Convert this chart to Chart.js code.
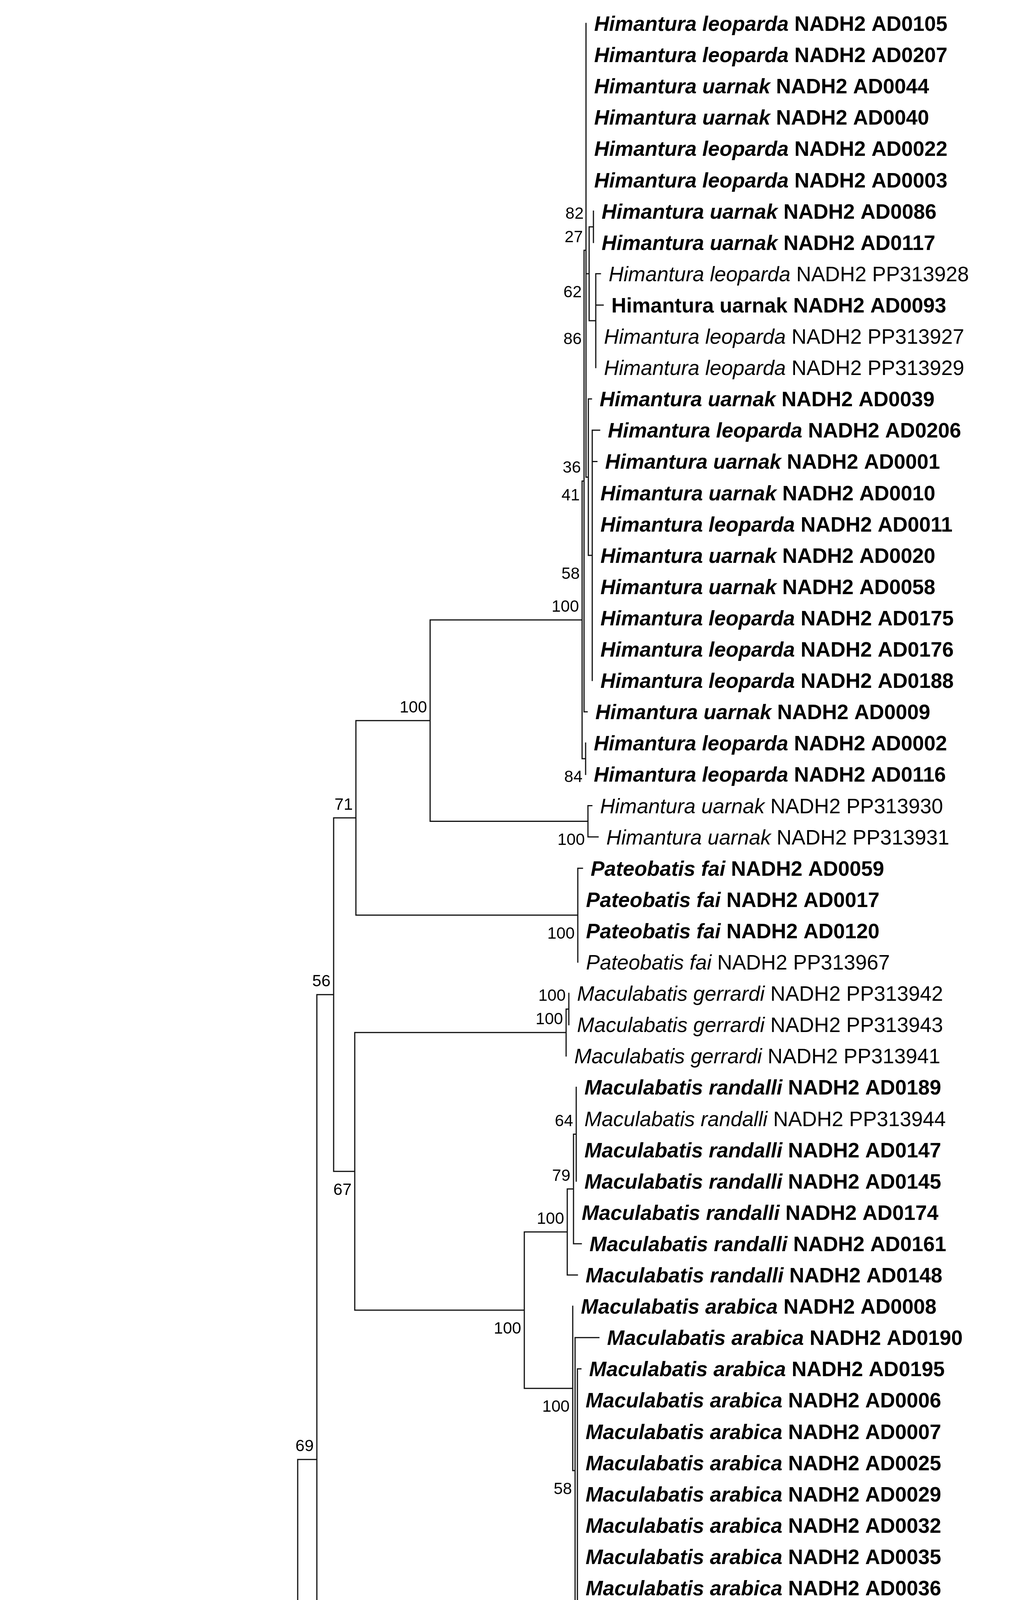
<!DOCTYPE html>
<html>
<head>
<meta charset="utf-8">
<script src="https://cdn.jsdelivr.net/npm/chart.js@4.4.1/dist/chart.umd.min.js"></script>
<style>
  html, body { margin: 0; padding: 0; background: #fff; }
  canvas { display: block; }
</style>
</head>
<body>
<canvas id="tree" width="2611" height="5344"></canvas>
<script>
// Tips, top to bottom
const accessions = [
  'AD0105', 'AD0207', 'AD0044', 'AD0040', 'AD0022', 'AD0003', 'AD0086', 'AD0117',
  'PP313928', 'AD0093', 'PP313927', 'PP313929', 'AD0039', 'AD0206', 'AD0001', 'AD0010',
  'AD0011', 'AD0020', 'AD0058', 'AD0175', 'AD0176', 'AD0188', 'AD0009', 'AD0002',
  'AD0116', 'PP313930', 'PP313931', 'AD0059', 'AD0017', 'AD0120', 'PP313967',
  'PP313942', 'PP313943', 'PP313941', 'AD0189', 'PP313944', 'AD0147', 'AD0145',
  'AD0174', 'AD0161', 'AD0148', 'AD0008', 'AD0190', 'AD0195', 'AD0006', 'AD0007',
  'AD0025', 'AD0029', 'AD0032', 'AD0035', 'AD0036', 'AD0047', 'AD0048', 'AD0049',
  'AD0050', 'AD0186', 'PP313938', 'PP313939', 'PP313940', 'AD0151', 'AD0218',
  'AD0209', 'AD0215', 'PP313868', 'AD0217', 'PP313993'
];

// species names, *...* = italic
const HL = '*Himantura leoparda*', HU = '*Himantura uarnak*';
const MR = '*Maculabatis randalli*', MA = '*Maculabatis arabica*';
const species = [
  HL, HL, HU, HU, HL, HL, HU, HU,
  HL, 'Himantura uarnak', HL, HL, HU, HL, HU, HU,
  HL, HU, HU, HL, HL, HL, HU, HL,
  HL, HU, HU, '*Pateobatis fai*', '*Pateobatis fai*', '*Pateobatis fai*', '*Pateobatis fai*',
  '*Maculabatis gerrardi*', '*Maculabatis gerrardi*', '*Maculabatis gerrardi*', MR, MR, MR, MR,
  MR, MR, MR, MA, MA, MA, MA, MA,
  MA, MA, MA, MA, MA, MA, MA, MA,
  MA, MA, MA, MA, MA, '*Brevitrygon manjajiae*', '*Brevitrygon manjajiae*',
  '*Brevitrygon* cf. *manjajiae*', '*Brevitrygon* cf. *manjajiae*', '*Brevitrygon* cf. *manjajiae*',
  '*Urogymnus asperrimus*', '*Urogymnus asperrimus*'
];
const gene = 'NADH2';

// topology, branch lengths (substitutions/site) and bootstrap support
const newick = `(
 (
  (
   (
    (
     (
      (
       (
        (AD0105:0,AD0207:0,AD0044:0,AD0040:0,AD0022:0,AD0003:0,
         ((AD0086:0,AD0117:0)82:0.00134,(PP313928:0.00146,AD0093:0.00232,PP313927:0,PP313929:0)86:0.00207)62:0.00098,
         (AD0039:0.00098,(AD0206:0.00232,AD0001:0.00146,AD0010:0,AD0011:0,AD0020:0,AD0058:0,AD0175:0,AD0176:0,AD0188:0)58:0.00122)41:0.00073
        )27:0.00061,
        AD0009:0.00098
       )36:0.00061,
       (AD0002:0,AD0116:0)84:0.00110
      )100:0.04744,
      (PP313930:0.00122,PP313931:0.00317)100:0.04927
     )100:0.02317,
     (AD0059:0.00146,AD0017:0,AD0120:0,PP313967:0)100:0.06927
    )71:0.00695,
    (
     ((PP313942:0,PP313943:0)100:0.00085,PP313941:0)100:0.06598,
     (
      (((AD0189:0,PP313944:0,AD0147:0,AD0145:0)64:0.00085,AD0174:0,AD0161:0.00244)79:0.00195,AD0148:0.00317)100:0.01341,
      (AD0008:0,(AD0190:0.00744,(AD0195:0.00110,AD0006:0,AD0007:0,AD0025:0,AD0029:0,AD0032:0,AD0035:0,AD0036:0,AD0047:0,AD0048:0,AD0049:0,AD0050:0,AD0186:0,PP313938:0,PP313939:0,PP313940:0)95:0.00073)58:0.00073)100:0.01512
     )100:0.05293
    )67:0.00659
   )56:0.00524,
   ((AD0151:0,AD0218:0)100:0.01500,(AD0209:0,AD0215:0,PP313868:0)100:0.01390)100:0.06561
  )69:0.00598,
  (AD0217:0,PP313993:0)100:0.09439
 )99:0.02220
);`;

const scaleBarLength = 0.02;
const scaleBarLabel = '0.02';

function parseNewick(str) {
  const s = str.replace(/\s+/g, '');
  let i = 0;
  function node() {
    const n = { children: [], name: '', length: 0 };
    if (s[i] === '(') {
      i++;
      n.children.push(node());
      while (s[i] === ',') { i++; n.children.push(node()); }
      i++;
    }
    let label = '';
    while (i < s.length && !',():;'.includes(s[i])) label += s[i++];
    n.name = label;
    if (s[i] === ':') {
      i++;
      let len = '';
      while (i < s.length && !',();'.includes(s[i])) len += s[i++];
      n.length = parseFloat(len);
    }
    return n;
  }
  return node();
}

const root = parseNewick(newick);
const tips = [];
const internals = [];
let rowCounter = 0;
function layout(n, depth) {
  n.x = depth + n.length;
  if (!n.children.length) {
    n.row = ++rowCounter;
    tips.push(n);
  } else {
    n.children.forEach(c => { c.parent = n; layout(c, n.x); });
    n.row = (n.children[0].row + n.children[n.children.length - 1].row) / 2;
    internals.push(n);
  }
}
layout(root, 0);

// branch segments, separated by gaps
const gap = { x: NaN, y: NaN };
const branchPoints = [];
function addSegments(n) {
  if (n.parent) branchPoints.push({ x: n.parent.x, y: n.row }, { x: n.x, y: n.row }, gap);
  if (n.children.length) {
    const first = n.children[0], last = n.children[n.children.length - 1];
    branchPoints.push({ x: n.x, y: first.row }, { x: n.x, y: last.row }, gap);
    n.children.forEach(addSegments);
  }
}
addSegments(root);
// root stem runs down to the (cropped) outgroup
branchPoints.push({ x: root.x, y: root.row }, { x: root.x, y: accessions.length + 1 }, gap);

// scale bar
const barStart = -0.06732, barRow = accessions.length, tick = 0.19;
const scaleBarPoints = [
  { x: barStart, y: barRow - tick }, { x: barStart, y: barRow + tick }, gap,
  { x: barStart, y: barRow }, { x: barStart + scaleBarLength, y: barRow }, gap,
  { x: barStart + scaleBarLength, y: barRow - tick }, { x: barStart + scaleBarLength, y: barRow + tick }
];

const FONT = '"Liberation Sans", Arial, sans-serif';

function drawTipLabel(ctx, text, x, y, bold) {
  // pieces between * are italic
  const parts = text.split('*');
  let cx = x;
  parts.forEach((p, k) => {
    if (!p) return;
    ctx.font = `${k % 2 ? 'italic ' : ''}${bold ? 'bold ' : ''}53px ${FONT}`;
    ctx.fillText(p, cx, y);
    cx += ctx.measureText(p).width;
  });
}

const labelPlugin = {
  id: 'treeLabels',
  afterDatasetsDraw(chart) {
    const { ctx, scales: { x: xs, y: ys } } = chart;
    ctx.save();
    ctx.fillStyle = '#000';
    ctx.textBaseline = 'alphabetic';

    // tip labels
    ctx.textAlign = 'left';
    tips.forEach(t => {
      const idx = accessions.indexOf(t.name);
      const bold = t.name.startsWith('AD');
      const px = xs.getPixelForValue(t.x) + 21;
      const py = ys.getPixelForValue(t.row) + 19;
      drawTipLabel(ctx, `${species[idx]} ${gene} ${t.name}`, px, py, bold);
    });

    // bootstrap values, pushed left of any vertical line they would cover
    const verticals = internals.map(n => ({
      x: xs.getPixelForValue(n.x),
      y0: ys.getPixelForValue(n.children[0].row),
      y1: ys.getPixelForValue(n.children[n.children.length - 1].row)
    }));
    ctx.font = `42px ${FONT}`;
    ctx.textAlign = 'right';
    internals.forEach(n => {
      if (!n.name || !n.parent) return;
      const first = n.parent.children[0] === n;
      const cy = ys.getPixelForValue(n.row) + (first ? -36 : 45);
      const w = ctx.measureText(n.name).width;
      let right = xs.getPixelForValue(n.x) - 8;
      for (let pass = 0; pass < 20; pass++) {
        const hit = verticals.find(v => v.x >= right - w - 2 && v.x <= right + 3 &&
          v.y0 <= cy + 16 && v.y1 >= cy - 16);
        if (!hit) break;
        right = hit.x - 6;
      }
      ctx.fillText(n.name, right, cy + 15);
    });

    // scale bar label
    ctx.textAlign = 'center';
    ctx.fillText(scaleBarLabel,
      xs.getPixelForValue(barStart + scaleBarLength / 2),
      ys.getPixelForValue(barRow) + 47);
    ctx.restore();
  }
};

new Chart(document.getElementById('tree'), {
  type: 'scatter',
  data: {
    datasets: [
      {
        data: branchPoints,
        showLine: true,
        spanGaps: false,
        borderColor: '#111',
        borderWidth: 3,
        borderCapStyle: 'square',
        pointRadius: 0
      },
      {
        data: scaleBarPoints,
        showLine: true,
        spanGaps: false,
        borderColor: '#111',
        borderWidth: 3,
        pointRadius: 0
      }
    ]
  },
  options: {
    responsive: false,
    devicePixelRatio: 1,
    animation: false,
    layout: { padding: 0 },
    plugins: { legend: { display: false }, tooltip: { enabled: false } },
    scales: {
      x: { type: 'linear', display: false, min: -0.070732, max: 0.247683 },
      y: { type: 'linear', display: false, reverse: true, min: 0.25094, max: 66.9675 }
    }
  },
  plugins: [labelPlugin]
});
</script>
</body>
</html>
